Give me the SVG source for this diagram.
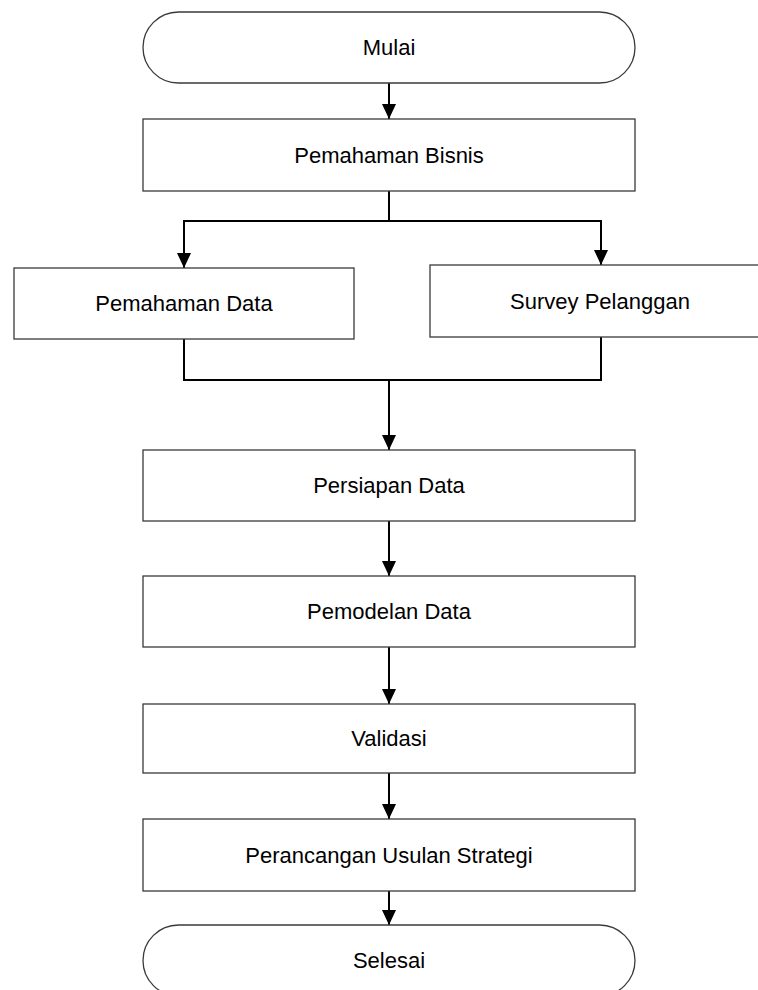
<svg xmlns="http://www.w3.org/2000/svg" width="758" height="990" viewBox="0 0 758 990">
<style>
.n{fill:#fff;stroke:#3a3a3a;stroke-width:1.3}
.t{font-family:"Liberation Sans",Arial,sans-serif;font-size:22px;fill:#000;text-anchor:middle}
.c{fill:none;stroke:#000;stroke-width:2}
.a{marker-end:url(#ah)}
</style>
<defs>
<marker id="ah" markerUnits="userSpaceOnUse" markerWidth="16" markerHeight="16" viewBox="0 0 16 16" refX="15" refY="7" orient="auto">
<path d="M0,0 L15,7 L0,14 Z" fill="#000"/>
</marker>
</defs>
<rect width="758" height="990" fill="#fff"/>
<g id="connectors">
<line class="c a" x1="389" y1="83" x2="389" y2="119"/>
<polyline class="c" points="389,191 389,221"/>
<polyline class="c" points="184,221 601,221"/>
<line class="c a" x1="184" y1="220" x2="184" y2="268"/>
<line class="c a" x1="601" y1="220" x2="601" y2="265"/>
<polyline class="c" points="184,339 184,380 601,380 601,337"/>
<line class="c a" x1="389" y1="380" x2="389" y2="450"/>
<line class="c a" x1="389" y1="521" x2="389" y2="576"/>
<line class="c a" x1="389" y1="647" x2="389" y2="704"/>
<line class="c a" x1="389" y1="773" x2="389" y2="819"/>
<line class="c a" x1="389" y1="891" x2="389" y2="925"/>
</g>
<g id="mulai">
<rect class="n" x="143" y="12" width="492" height="71" rx="35.5" ry="35.5"/>
<text class="t" x="389" y="55">Mulai</text>
</g>
<g id="pemahaman-bisnis">
<rect class="n" x="143" y="119" width="492" height="72"/>
<text class="t" x="389" y="163">Pemahaman Bisnis</text>
</g>
<g id="pemahaman-data">
<rect class="n" x="14" y="268" width="340" height="71"/>
<text class="t" x="184" y="311">Pemahaman Data</text>
</g>
<g id="survey-pelanggan">
<rect class="n" x="430" y="265" width="340" height="72"/>
<text class="t" x="600" y="309">Survey Pelanggan</text>
</g>
<g id="persiapan-data">
<rect class="n" x="143" y="450" width="492" height="71"/>
<text class="t" x="389" y="493">Persiapan Data</text>
</g>
<g id="pemodelan-data">
<rect class="n" x="143" y="576" width="492" height="71"/>
<text class="t" x="389" y="619">Pemodelan Data</text>
</g>
<g id="validasi">
<rect class="n" x="143" y="704" width="492" height="69"/>
<text class="t" x="389" y="746">Validasi</text>
</g>
<g id="perancangan">
<rect class="n" x="143" y="819" width="492" height="72"/>
<text class="t" x="389" y="863">Perancangan Usulan Strategi</text>
</g>
<g id="selesai">
<rect class="n" x="143" y="925" width="492" height="71" rx="35.5" ry="35.5"/>
<text class="t" x="389" y="968">Selesai</text>
</g>
</svg>
